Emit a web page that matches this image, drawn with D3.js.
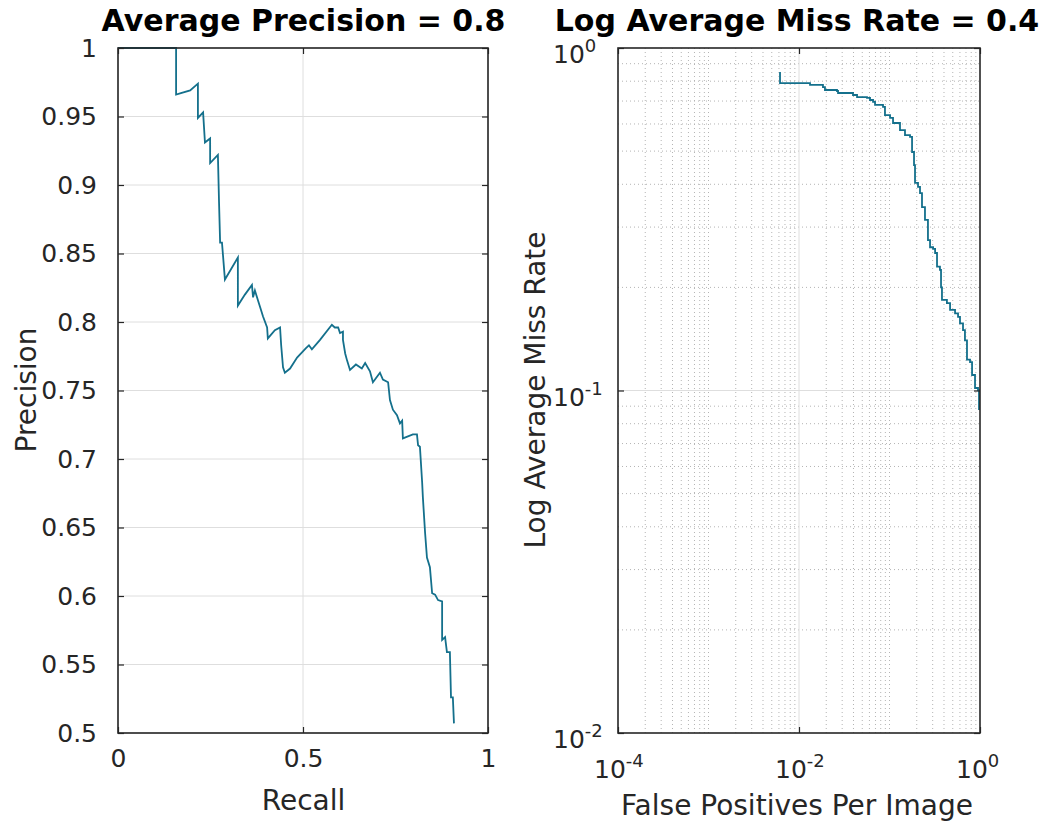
<!DOCTYPE html>
<html>
<head>
<meta charset="utf-8">
<script src="https://cdn.jsdelivr.net/npm/d3@7"></script>
<style>
html,body{margin:0;padding:0;background:#fff;}
svg{display:block;font-family:"DejaVu Sans",sans-serif;}
</style>
</head>
<body>
<svg id="chart" width="1049" height="827"></svg>
<script>
// ---------- data ----------
const recall = [0,0.157,0.157,0.170,0.195,0.216,0.216,0.230,0.235,0.249,0.249,0.270,0.273,0.276,0.281,0.289,0.324,0.324,0.343,0.362,0.365,0.370,0.378,0.384,0.392,0.403,0.405,0.424,0.438,0.441,0.446,0.451,0.465,0.484,0.508,0.516,0.524,0.546,0.578,0.586,0.595,0.600,0.608,0.608,0.614,0.619,0.627,0.643,0.659,0.668,0.681,0.689,0.708,0.716,0.730,0.735,0.743,0.754,0.762,0.768,0.770,0.797,0.808,0.811,0.816,0.822,0.824,0.830,0.835,0.843,0.849,0.857,0.865,0.876,0.876,0.884,0.889,0.897,0.900,0.905,0.908];
const precision = [1,1,0.966,0.967,0.969,0.974,0.949,0.953,0.931,0.934,0.916,0.922,0.888,0.858,0.858,0.831,0.847,0.812,0.820,0.827,0.818,0.823,0.816,0.811,0.804,0.796,0.788,0.794,0.796,0.783,0.767,0.763,0.766,0.774,0.781,0.783,0.780,0.787,0.798,0.796,0.796,0.792,0.793,0.787,0.777,0.772,0.765,0.769,0.766,0.770,0.764,0.756,0.763,0.758,0.756,0.743,0.736,0.732,0.726,0.728,0.715,0.718,0.718,0.710,0.709,0.683,0.672,0.646,0.628,0.621,0.602,0.601,0.597,0.596,0.568,0.570,0.559,0.559,0.526,0.526,0.507];

const fppi = [0.00617,0.00617,0.01324,0.0184,0.01935,0.0263,0.0270,0.0395,0.0438,0.0564,0.0609,0.0658,0.0692,0.0848,0.0891,0.1014,0.1094,0.1306,0.1483,0.1686,0.1775,0.1866,0.1914,0.2066,0.2173,0.2286,0.2466,0.266,0.2805,0.303,0.319,0.335,0.361,0.371,0.380,0.431,0.467,0.530,0.572,0.601,0.649,0.682,0.718,0.776,0.817,0.881,0.951,0.975];
const missRate = [0.851,0.790,0.780,0.769,0.754,0.749,0.739,0.729,0.719,0.715,0.705,0.696,0.682,0.673,0.637,0.625,0.604,0.576,0.557,0.550,0.497,0.455,0.404,0.393,0.377,0.343,0.315,0.275,0.262,0.259,0.252,0.230,0.225,0.200,0.184,0.180,0.172,0.168,0.164,0.157,0.150,0.140,0.123,0.121,0.111,0.1017,0.1003,0.0877];

const prXTicks = [0,0.5,1];
const prXTickLabels = ["0","0.5","1"];
const prYTicks = [0.5,0.55,0.6,0.65,0.7,0.75,0.8,0.85,0.9,0.95,1];
const prYTickLabels = ["0.5","0.55","0.6","0.65","0.7","0.75","0.8","0.85","0.9","0.95","1"];
const mrXTicks = [1e-4,1e-2,1];
const mrXExps = ["-4","-2","0"];
const mrYTicks = [1e-2,1e-1,1];
const mrYExps = ["-2","-1","0"];

const titles = ["Average Precision = 0.8","Log Average Miss Rate = 0.4"];
const xLabels = ["Recall","False Positives Per Image"];
const yLabels = ["Precision","Log Average Miss Rate"];

// ---------- layout ----------
const svg = d3.select("#chart");
const lineColor = "#14708c";
const boxColor = "#262626";
const gridColor = "#dedede";
const textColor = "#262626";
const tickFont = 25;
const labelFont = 28;

const L = {x0:118, x1:488, y0:48, y1:733};
const R = {x0:618, x1:980, y0:48, y1:733};

function styleAxis(g){
  g.selectAll(".domain").attr("d",null);
  g.selectAll(".tick line").attr("stroke",boxColor).attr("stroke-width",1.2);
  g.selectAll(".tick text").attr("fill",textColor).attr("font-size",tickFont).attr("font-family","DejaVu Sans");
}

// ---------- left: PR curve ----------
const xL = d3.scaleLinear().domain([0,1]).range([L.x0,L.x1]);
const yL = d3.scaleLinear().domain([0.5,1]).range([L.y1,L.y0]);
const gL = svg.append("g");

gL.append("g").selectAll("line").data(prXTicks).join("line")
  .attr("x1",d=>xL(d)).attr("x2",d=>xL(d)).attr("y1",L.y0).attr("y2",L.y1)
  .attr("stroke",gridColor).attr("stroke-width",1);
gL.append("g").selectAll("line").data(prYTicks).join("line")
  .attr("x1",L.x0).attr("x2",L.x1).attr("y1",d=>yL(d)).attr("y2",d=>yL(d))
  .attr("stroke",gridColor).attr("stroke-width",1);

gL.append("path").datum(recall.map((r,i)=>[r,precision[i]]))
  .attr("fill","none").attr("stroke",lineColor).attr("stroke-width",1.8)
  .attr("d",d3.line().x(d=>xL(d[0])).y(d=>yL(d[1])));

gL.append("g").attr("transform",`translate(0,${L.y1})`)
  .call(d3.axisBottom(xL).tickValues(prXTicks).tickSize(-6).tickFormat((d,i)=>prXTickLabels[i]).tickPadding(16)).call(styleAxis);
gL.append("g").attr("transform",`translate(0,${L.y0})`)
  .call(d3.axisTop(xL).tickValues(prXTicks).tickSize(-6).tickFormat("")).call(styleAxis);
gL.append("g").attr("transform",`translate(${L.x0},0)`)
  .call(d3.axisLeft(yL).tickValues(prYTicks).tickSize(-6).tickFormat((d,i)=>prYTickLabels[i]).tickPadding(21)).call(styleAxis);
gL.append("g").attr("transform",`translate(${L.x1},0)`)
  .call(d3.axisRight(yL).tickValues(prYTicks).tickSize(-6).tickFormat("")).call(styleAxis);
gL.append("rect").attr("x",L.x0).attr("y",L.y0).attr("width",L.x1-L.x0).attr("height",L.y1-L.y0)
  .attr("fill","none").attr("stroke",boxColor).attr("stroke-width",1.6);

// ---------- right: miss rate ----------
const xR = d3.scaleLog().domain([1e-4,1]).range([R.x0,R.x1]);
const yR = d3.scaleLog().domain([1e-2,1]).range([R.y1,R.y0]);
const gR = svg.append("g");

const minorX = [], minorY = [];
[1e-4,1e-3,1e-2,1e-1].forEach(b=>{for(let k=2;k<=9;k++) minorX.push(b*k);});
[1e-2,1e-1].forEach(b=>{for(let k=2;k<=9;k++) minorY.push(b*k);});
const dottedX = minorX.concat([1e-3,1e-1]);

gR.append("g").selectAll("line").data(dottedX).join("line")
  .attr("x1",d=>xR(d)).attr("x2",d=>xR(d)).attr("y1",R.y0).attr("y2",R.y1)
  .attr("stroke","#b4b4b4").attr("stroke-width",1).attr("stroke-dasharray","1,3");
gR.append("g").selectAll("line").data(minorY).join("line")
  .attr("x1",R.x0).attr("x2",R.x1).attr("y1",d=>yR(d)).attr("y2",d=>yR(d))
  .attr("stroke","#b4b4b4").attr("stroke-width",1).attr("stroke-dasharray","1,3");
gR.append("g").selectAll("line").data([1e-2]).join("line")
  .attr("x1",d=>xR(d)).attr("x2",d=>xR(d)).attr("y1",R.y0).attr("y2",R.y1)
  .attr("stroke",gridColor).attr("stroke-width",1);
gR.append("g").selectAll("line").data([1e-1]).join("line")
  .attr("x1",R.x0).attr("x2",R.x1).attr("y1",d=>yR(d)).attr("y2",d=>yR(d))
  .attr("stroke",gridColor).attr("stroke-width",1);

gR.append("path").datum(fppi.map((f,i)=>[f,missRate[i]]))
  .attr("fill","none").attr("stroke",lineColor).attr("stroke-width",1.8)
  .attr("d",d3.line().curve(d3.curveStepAfter).x(d=>xR(d[0])).y(d=>yR(d[1])));

[[d3.axisBottom(xR).tickValues(mrXTicks),`translate(0,${R.y1})`],
 [d3.axisTop(xR).tickValues(mrXTicks),`translate(0,${R.y0})`],
 [d3.axisLeft(yR).tickValues(mrYTicks),`translate(${R.x0},0)`],
 [d3.axisRight(yR).tickValues(mrYTicks),`translate(${R.x1},0)`]]
  .forEach(([a,t])=>{gR.append("g").attr("transform",t).call(a.tickSize(-6).tickFormat("")).call(styleAxis);});
gR.append("rect").attr("x",R.x0).attr("y",R.y0).attr("width",R.x1-R.x0).attr("height",R.y1-R.y0)
  .attr("fill","none").attr("stroke",boxColor).attr("stroke-width",1.6);

function powLabel(g, x, y, exp){
  const t = g.append("text").attr("x",x).attr("y",y).attr("fill",textColor)
    .attr("font-size",tickFont).attr("text-anchor","start");
  t.append("tspan").text("10");
  t.append("tspan").attr("font-size",18).attr("dy",-11).text(exp);
}
mrXTicks.forEach((d,i)=>powLabel(gR, xR(d)-24, 778, mrXExps[i]));
mrYTicks.forEach((d,i)=>powLabel(gR, R.x0-65, yR(d)+15, mrYExps[i]));

// ---------- titles & labels ----------
const centers = [(L.x0+L.x1)/2+0.5, (R.x0+R.x1)/2-2];
titles.forEach((t,i)=>svg.append("text").attr("x",centers[i]).attr("y",31)
  .attr("text-anchor","middle").attr("font-weight","bold").attr("font-size",30)
  .attr("fill","#000").text(t));
xLabels.forEach((t,i)=>svg.append("text").attr("x",centers[i]).attr("y",[810,815][i])
  .attr("text-anchor","middle").attr("font-size",labelFont).attr("fill",textColor).text(t));
[[36,390],[545,390]].forEach(([x,y],i)=>svg.append("text")
  .attr("transform",`translate(${x},${y}) rotate(-90)`)
  .attr("text-anchor","middle").attr("font-size",labelFont).attr("fill",textColor).text(yLabels[i]));
</script>
</body>
</html>
